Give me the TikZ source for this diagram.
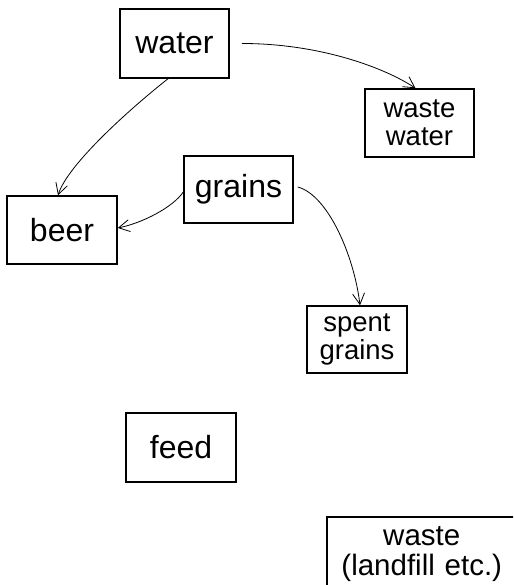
\documentclass[tikz,border=0pt]{standalone}
\usepackage{fontspec}
\setmainfont{Liberation Sans}
\usetikzlibrary{arrows.meta}
\begin{document}
\begin{tikzpicture}[x=1pt,y=1pt,
  box/.style={draw=black, line width=1.5pt, inner sep=0pt, align=center, font=\fontsize{32}{33}\selectfont},
  box2/.style={box, font=\fontsize{27.5}{28}\selectfont},
  flow/.style={line width=0.8pt, -{Straight Barb[length=11pt,width=12pt,line width=0.8pt]}}]
\useasboundingbox (0,0) rectangle (513,585);
\clip (0,0) rectangle (513,585);
\fill[white] (0,0) rectangle (513,585);
\node[box, minimum width=109pt, minimum height=69pt] (water) at (174.5,541.5) {water};
\node[box2, minimum width=109pt, minimum height=68pt] (ww) at (419.5,462) {waste\\water};
\node[box, minimum width=109pt, minimum height=67pt] (grains) at (238.5,395.5) {grains};
\node[box, minimum width=110pt, minimum height=68pt] (beer) at (62,355) {beer};
\node[box2, minimum width=100pt, minimum height=67pt] (spent) at (357,245.5) {spent\\grains};
\node[box, minimum width=110pt, minimum height=69pt] (feed) at (181,137.5) {feed};
\node[box2, draw=none, font=\fontsize{29.5}{30}\selectfont, anchor=north west, text width=188pt, minimum height=72pt] (waste) at (327,68) {waste\\(landfill etc.)};
\draw[line width=1.5pt] ([xshift=60pt]waste.north east) -- (waste.north west) -- ([yshift=-20pt]waste.south west);
\draw[flow] ([xshift=12pt]water.east) .. controls +(79,0) and +(-30,20) .. ([xshift=-4pt]ww.north);
\draw[flow] ([xshift=-6.5pt]water.south) .. controls +(-38,-30) and +(10,31) .. ([xshift=-4pt]beer.north);
\draw[flow] ([yshift=-2.5pt]grains.west) .. controls +(-10,-15) and +(25,5) .. ([yshift=2pt]beer.east);
\draw[flow] ([xshift=4pt,yshift=2.5pt]grains.east) .. controls +(30,-8) and +(-6,50) .. ([xshift=3pt]spent.north);
\end{tikzpicture}
\end{document}
